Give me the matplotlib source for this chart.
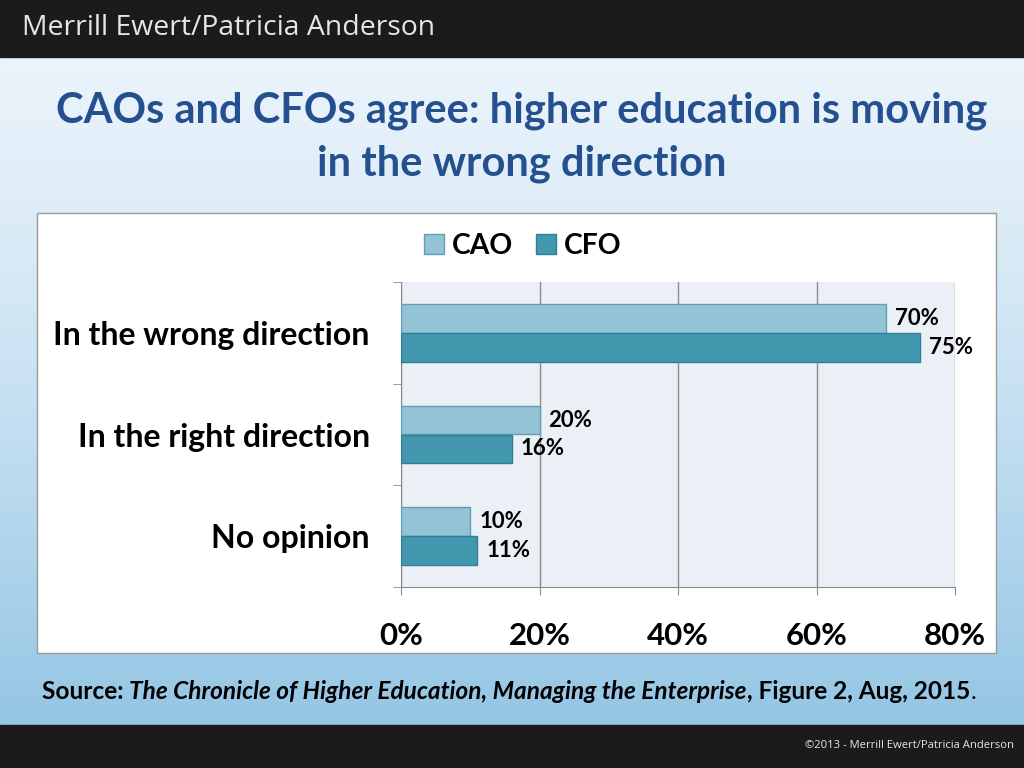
import numpy as np
import matplotlib
matplotlib.use("Agg")
import matplotlib.pyplot as plt
from matplotlib.patches import Rectangle, Patch

categories = ["In the wrong direction", "In the right direction", "No opinion"]
cao = [70, 20, 10]
cfo = [75, 16, 11]
xticks = [0, 20, 40, 60, 80]

W, H = 1024, 768
plt.rcParams['font.family'] = ['Lato', 'DejaVu Sans']

fig = plt.figure(figsize=(W / 100, H / 100), dpi=100)

# background gradient, light at the top to sky blue at the bottom
bg = fig.add_axes([0, 0, 1, 1])
bg.set_axis_off()
bg.set_zorder(-5)
top = np.array([0.93, 0.96, 0.985])
bot = np.array([0.55, 0.76, 0.89])
t = np.linspace(0, 1, 256)[:, None] ** 1.4
cols = (top + (bot - top) * t)[:, None, :]
bg.imshow(cols, aspect='auto', extent=[0, 1, 0, 1], origin='upper')
bg.set_xlim(0, 1)
bg.set_ylim(0, 1)

# header and footer bars
fig.patches.append(Rectangle((0, 1 - 57 / H), 1, 57 / H, transform=fig.transFigure,
                             color='#1b1b1b', zorder=1))
fig.patches.append(Rectangle((0, 0), 1, 43 / H, transform=fig.transFigure,
                             color='#1b1b1b', zorder=1))
fig.text(22 / W, 1 - 28 / H, "Merrill Ewert/Patricia Anderson", color='#e6e6e6',
         fontsize=20.4, va='center', ha='left', family=['Open Sans', 'DejaVu Sans'])
fig.text(1014 / W, 22 / H, "\u00a92013 - Merrill Ewert/Patricia Anderson", color='#e6e6e6',
         fontsize=8.1, va='center', ha='right', family=['Open Sans', 'DejaVu Sans'])

# title
fig.text(522 / W, 1 - 111 / H, "CAOs and CFOs agree: higher education is moving",
         color='#25508f', fontsize=30, fontweight='bold', ha='center', va='center')
fig.text(522 / W, 1 - 164 / H, "in the wrong direction",
         color='#25508f', fontsize=30, fontweight='bold', ha='center', va='center')

# chart frame
fig.patches.append(Rectangle((37 / W, 1 - 653 / H), (996 - 37) / W, (653 - 213) / H,
                             transform=fig.transFigure, facecolor='white',
                             edgecolor='#9a9a9a', lw=1, zorder=1))

ax = fig.add_axes([401 / W, 1 - 587 / H, (955 - 401) / W, (587 - 282) / H])
ax.set_zorder(3)
ax.set_facecolor('#ebf0f6')
y = np.arange(len(categories))
h = 0.285
ax.barh(y - h / 2, cao, height=h, color='#93c3d4', edgecolor='#5e9fb6', lw=1, zorder=3)
ax.barh(y + h / 2, cfo, height=h, color='#4398b0', edgecolor='#2f7f97', lw=1, zorder=3)
for i in range(len(categories)):
    ax.text(cao[i] + 1.3, y[i] - h / 2, f"{cao[i]}%", fontsize=16, fontweight='bold',
            va='center', ha='left', zorder=4)
    ax.text(cfo[i] + 1.3, y[i] + h / 2, f"{cfo[i]}%", fontsize=16, fontweight='bold',
            va='center', ha='left', zorder=4)

ax.set_xlim(0, 80)
ax.set_ylim(2.5, -0.5)
ax.set_xticks(xticks)
ax.set_xticklabels([f"{v}%" for v in xticks], fontsize=22.5, fontweight='bold')
ax.set_yticks(y)
ax.set_yticklabels(categories, fontsize=23, fontweight='bold')
ax.set_yticks([-0.5, 0.5, 1.5, 2.5], minor=True)
ax.tick_params(axis='y', which='major', length=0, pad=22.5)
ax.tick_params(axis='y', which='minor', length=6, color='#8c8c8c', direction='out')
ax.tick_params(axis='x', length=6, color='#8c8c8c', direction='out', pad=19)
ax.grid(axis='x', color='#8c8c8c', lw=1, zorder=1)
ax.set_axisbelow(True)
for s in ['top', 'right']:
    ax.spines[s].set_visible(False)
for s in ['left', 'bottom']:
    ax.spines[s].set_color('#8c8c8c')

handles = [Patch(facecolor='#93c3d4', edgecolor='#5e9fb6'),
           Patch(facecolor='#4398b0', edgecolor='#2f7f97')]
leg = fig.legend(handles, ["CAO", "CFO"], loc='center', bbox_to_anchor=(523 / W, 1 - 246 / H),
                 ncol=2, frameon=False, prop={'size': 20.3, 'weight': 'bold'},
                 handlelength=0.7, handleheight=0.7, handletextpad=0.3, columnspacing=0.8)
leg.set_zorder(4)

# source line with mixed styles
fig.canvas.draw()
r = fig.canvas.get_renderer()
pieces = [("Source: ", 'normal', 'bold'),
          ("The Chronicle of Higher Education, Managing the Enterprise", 'italic', 'bold'),
          (", Figure 2, Aug, 2015", 'normal', 'bold'),
          (".", 'normal', 'normal')]
x0 = 42
for txt, st, wt in pieces:
    tx = fig.text(x0 / W, 1 - 699 / H, txt, fontsize=17.6, fontstyle=st, fontweight=wt,
                  va='baseline', ha='left')
    bb = tx.get_window_extent(r)
    x0 += bb.width

fig.savefig("out.png", dpi=100)
